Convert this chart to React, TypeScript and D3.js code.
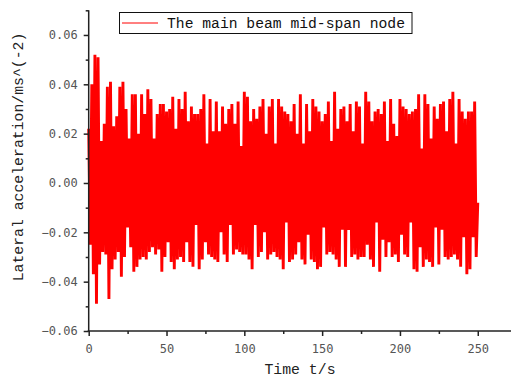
import { useRef, useEffect } from "react";
import * as d3 from "d3";

// positive peaks, one every PEAK_STEP seconds starting at t = 0
const upperPeaks = [
  0.022, 0.040, 0.052, 0.051, 0.017, 0.024, 0.039, 0.041, 0.023, 0.027,
  0.039, 0.041, 0.030, 0.018, 0.036, 0.036, 0.020, 0.036, 0.028, 0.038,
  0.034, 0.018, 0.028, 0.032, 0.032, 0.029, 0.030, 0.035, 0.022, 0.034,
  0.030, 0.037, 0.025, 0.031, 0.028, 0.028, 0.030, 0.036, 0.016, 0.034,
  0.021, 0.033, 0.021, 0.031, 0.024, 0.030, 0.032, 0.024, 0.033, 0.015,
  0.037, 0.035, 0.025, 0.030, 0.026, 0.031, 0.034, 0.020, 0.031, 0.034,
  0.016, 0.034, 0.031, 0.029, 0.028, 0.025, 0.032, 0.020, 0.036, 0.016,
  0.032, 0.021, 0.034, 0.031, 0.029, 0.025, 0.028, 0.033, 0.017, 0.037,
  0.022, 0.030, 0.031, 0.025, 0.032, 0.021, 0.033, 0.031, 0.016, 0.037,
  0.033, 0.025, 0.029, 0.030, 0.028, 0.033, 0.017, 0.034, 0.024, 0.019,
  0.034, 0.031, 0.030, 0.028, 0.029, 0.030, 0.036, 0.014, 0.036, 0.032,
  0.018, 0.031, 0.026, 0.032, 0.033, 0.021, 0.034, 0.037, 0.016, 0.034,
  0.029, 0.026, 0.029, 0.029, 0.033, -0.008,
];

// negative peaks, half a step after each positive one
const lowerPeaks = [
  -0.025, -0.037, -0.049, -0.033, -0.028, -0.029, -0.047, -0.035, -0.031, -0.028,
  -0.038, -0.030, -0.018, -0.026, -0.036, -0.034, -0.031, -0.030, -0.031, -0.028,
  -0.026, -0.029, -0.027, -0.036, -0.030, -0.024, -0.032, -0.035, -0.031, -0.030,
  -0.032, -0.024, -0.032, -0.034, -0.017, -0.035, -0.031, -0.024, -0.029, -0.030,
  -0.031, -0.032, -0.020, -0.029, -0.032, -0.017, -0.029, -0.027, -0.028, -0.029,
  -0.029, -0.031, -0.035, -0.017, -0.030, -0.028, -0.020, -0.031, -0.029, -0.028,
  -0.030, -0.031, -0.035, -0.016, -0.032, -0.031, -0.029, -0.024, -0.031, -0.033,
  -0.021, -0.031, -0.032, -0.035, -0.034, -0.018, -0.029, -0.028, -0.029, -0.031,
  -0.034, -0.019, -0.034, -0.019, -0.030, -0.029, -0.031, -0.030, -0.030, -0.025,
  -0.031, -0.034, -0.016, -0.036, -0.023, -0.030, -0.024, -0.030, -0.029, -0.032,
  -0.021, -0.029, -0.030, -0.016, -0.035, -0.036, -0.026, -0.034, -0.031, -0.032,
  -0.034, -0.018, -0.033, -0.019, -0.030, -0.031, -0.030, -0.029, -0.031, -0.034,
  -0.022, -0.037, -0.035, -0.022, -0.030,
];

const PEAK_STEP = 2;

const yMajorTicks = [-0.06, -0.04, -0.02, 0, 0.02, 0.04, 0.06];
const yMinorTicks = [-0.05, -0.03, -0.01, 0.01, 0.03, 0.05, 0.07];
const xMajorTicks = [0, 50, 100, 150, 200, 250];
const xMinorTicks = [25, 75, 125, 175, 225];

const W = 511;
const H = 378;
const monoFont = "'Liberation Mono', monospace";
const tickFont = "'DejaVu Sans Mono', monospace";

export default function App() {
  const svgRef = useRef<SVGSVGElement>(null);

  useEffect(() => {
    if (!svgRef.current) return;
    const svg = d3.select(svgRef.current);
    svg.selectAll("*").remove();

    const x = d3.scaleLinear().domain([0, 272]).range([88.7, 512]);
    const y = d3.scaleLinear().domain([-0.06, 0.07]).range([331, 10.3]);

    const pts: [number, number][] = [];
    upperPeaks.forEach((u, i) => {
      pts.push([i * PEAK_STEP, u]);
      if (i < lowerPeaks.length) pts.push([i * PEAK_STEP + PEAK_STEP / 2, lowerPeaks[i]]);
    });

    const line = d3
      .line<[number, number]>()
      .x((d) => x(d[0]))
      .y((d) => y(d[1]));

    svg
      .append("path")
      .datum(pts)
      .attr("d", line)
      .attr("fill", "none")
      .attr("stroke", "#ff0000")
      .attr("stroke-width", 2.9)
      .attr("stroke-linejoin", "bevel");

    // y axis
    const yAxis = svg.append("g").attr("transform", `translate(${x(0)},0)`);
    yAxis.call(
      d3
        .axisLeft(y)
        .tickValues(yMajorTicks)
        .tickFormat((d) => d3.format(".2f")(d as number).replace("-", "\u2212"))
        .tickSize(5)
        .tickSizeOuter(0)
        .tickPadding(6),
    );
    yAxis.append("g").call(
      d3.axisLeft(y).tickValues(yMinorTicks).tickFormat(() => "").tickSize(3).tickSizeOuter(0),
    );
    yAxis.selectAll(".domain").remove();
    yAxis
      .append("line")
      .attr("y1", y(-0.06))
      .attr("y2", y(0.07))
      .attr("stroke", "#222");

    // x axis
    const xAxis = svg.append("g").attr("transform", `translate(0,${y(-0.06)})`);
    xAxis.call(
      d3.axisBottom(x).tickValues(xMajorTicks).tickFormat(d3.format("d")).tickSize(5).tickSizeOuter(0).tickPadding(8.5),
    );
    xAxis.append("g").call(
      d3.axisBottom(x).tickValues(xMinorTicks).tickFormat(() => "").tickSize(3).tickSizeOuter(0),
    );
    xAxis.selectAll(".domain").remove();
    xAxis
      .append("line")
      .attr("x1", x(0) - 1)
      .attr("x2", W)
      .attr("stroke", "#222");

    svg.selectAll(".tick line").attr("stroke", "#222");
    svg.selectAll("line").attr("stroke-width", 1.5);
    svg
      .selectAll(".tick text")
      .attr("fill", "#555")
      .style("font-family", tickFont)
      .style("font-size", "12px");

    // axis titles
    svg
      .append("text")
      .attr("x", 300)
      .attr("y", 374)
      .attr("text-anchor", "middle")
      .attr("fill", "#222")
      .style("font-family", monoFont)
      .style("font-size", "14.8px")
      .text("Time t/s");

    svg
      .append("text")
      .attr("transform", "translate(23,157) rotate(-90)")
      .attr("text-anchor", "middle")
      .attr("fill", "#222")
      .style("font-family", monoFont)
      .style("font-size", "14.8px")
      .text("Lateral acceleration/ms^(-2)");

    // legend
    const lg = svg.append("g");
    lg.append("rect")
      .attr("x", 119.5)
      .attr("y", 12.5)
      .attr("width", 292.5)
      .attr("height", 21)
      .attr("fill", "#fff")
      .attr("stroke", "#111")
      .attr("stroke-width", 1);
    lg.append("line")
      .attr("x1", 122)
      .attr("x2", 158)
      .attr("y1", 23)
      .attr("y2", 23)
      .attr("stroke", "#ff0000")
      .attr("stroke-width", 1);
    lg.append("text")
      .attr("x", 167)
      .attr("y", 28)
      .attr("fill", "#111")
      .style("font-family", monoFont)
      .style("font-size", "14.7px")
      .text("The main beam mid-span node");
  }, []);

  return (
    <svg
      ref={svgRef}
      width={W}
      height={H}
      viewBox={`0 0 ${W} ${H}`}
      style={{ position: "absolute", left: 0, top: 0, background: "#fff" }}
    />
  );
}
